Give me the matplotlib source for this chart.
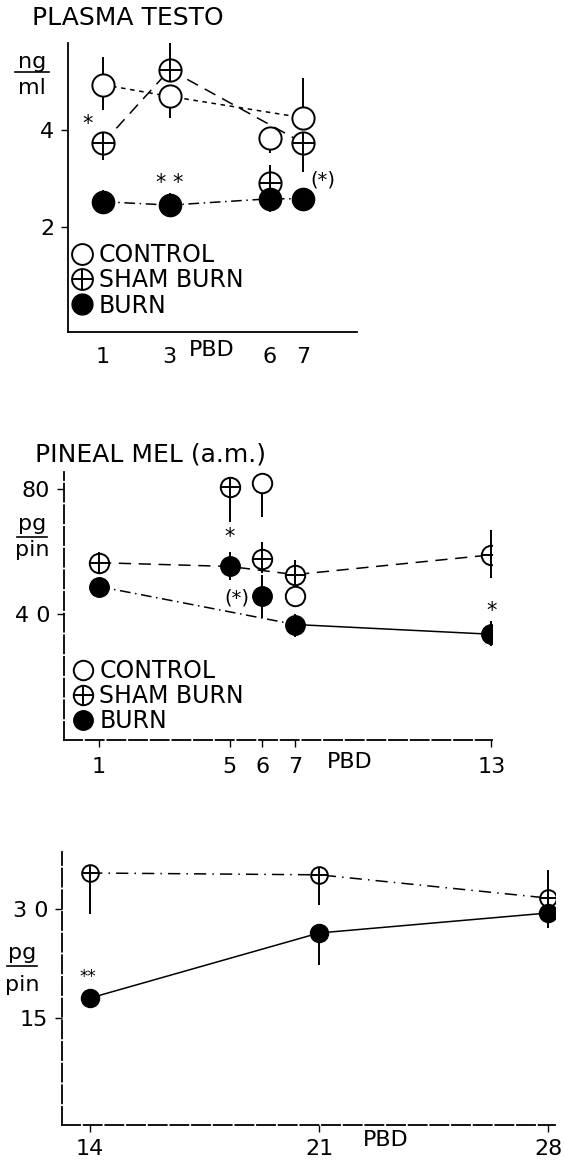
import matplotlib
matplotlib.use("Agg")
import matplotlib.pyplot as plt
import numpy as np
from matplotlib.lines import Line2D

plt.rcParams['font.family'] = ['DejaVu Sans']

# ---- panel 1: plasma testosterone (ng/ml)
testo_days = [1, 3, 6, 7]
testo_control = [4.93, 4.69, 3.83, 4.25]
testo_control_lo = [0.52, 0.44, 0.31, 0.0]
testo_control_hi = [0.57, 0.0, 0.0, 0.82]
testo_sham = [3.73, 5.24, 2.90, 3.73]
testo_sham_lo = [0.35, 0.0, 0.0, 0.60]
testo_sham_hi = [0.0, 0.55, 0.38, 0.0]
testo_burn = [2.52, 2.45, 2.58, 2.58]
testo_burn_err = [0.25, 0.25, 0.27, 0.22]
# connecting lines skip PBD 6 for control and sham
testo_line_days = [1, 3, 7]
testo_control_line = [4.93, 4.69, 4.25]
testo_sham_line = [3.73, 5.24, 3.73]

# ---- panel 2: pineal melatonin a.m., PBD 1-13 (pg/pin)
mel_days = [1, 5, 6, 7, 13]
mel_control = [np.nan, np.nan, 81.9, 46.0, np.nan]
mel_control_lo = [0, 0, 10.9, 0, 0]
mel_control_hi = [0, 0, 0, 3.0, 0]
mel_sham = [56.5, 80.6, 57.8, 52.7, 59.0]
mel_sham_lo = [0.0, 11.1, 4.5, 0.0, 7.3]
mel_sham_hi = [3.5, 0.0, 5.4, 4.8, 8.0]
mel_burn = [48.9, 55.6, 45.8, 36.8, 33.7]
mel_burn_lo = [0.0, 4.6, 6.8, 4.1, 3.7]
mel_burn_hi = [0.0, 4.4, 6.9, 3.5, 4.1]
mel_pool_days = [1, 5, 7, 13]
mel_pool = [56.5, 55.3, 52.7, 59.0]
mel_burn_line_days = [1, 7, 13]
mel_burn_line = [48.9, 36.8, 33.7]

# ---- panel 3: pineal melatonin, PBD 14-28 (pg/pin)
late_days = [14, 21, 28]
late_sham = [34.95, 34.7, 31.5]
late_sham_lo = [5.7, 4.2, 0.0]
late_sham_hi = [0.0, 0.0, 3.9]
late_burn = [17.75, 26.7, 29.45]
late_burn_lo = [1.3, 4.4, 2.0]
late_burn_hi = [1.0, 0.0, 1.5]

FS = 16


def open_pt(ax, x, y, lo, hi, ms):
    ax.errorbar(x, y, yerr=[lo, hi], fmt='none', ecolor='k', elinewidth=1.4, zorder=2)
    ax.plot(x, y, 'o', ms=ms, mfc='white', mec='k', mew=1.4, ls='none', zorder=3)


def sham_pt(ax, x, y, lo, hi, ms):
    open_pt(ax, x, y, lo, hi, ms)
    ax.plot(x, y, '+', ms=ms, mec='k', mew=1.4, ls='none', zorder=4)


def burn_pt(ax, x, y, lo, hi, ms):
    ax.errorbar(x, y, yerr=[lo, hi], fmt='none', ecolor='k', elinewidth=1.4, zorder=2)
    ax.plot(x, y, 'o', ms=ms, mfc='k', mec='k', ls='none', zorder=3)


def style(ax, dashed=False):
    for s in ['top', 'right']:
        ax.spines[s].set_visible(False)
    for s in ['left', 'bottom']:
        ax.spines[s].set_linewidth(1.3)
        if dashed:
            ax.spines[s].set_linestyle((0, (10, 2)))
    ax.tick_params(axis='y', direction='out', length=5, width=1, labelsize=FS, pad=5)
    ax.tick_params(axis='x', direction='out', length=5, width=1, labelsize=FS, pad=7)


def add_legend(ax, ms, anchor):
    h_c = Line2D([], [], marker='o', ms=ms, mfc='white', mec='k', mew=1.4, ls='none')
    h_s1 = Line2D([], [], marker='o', ms=ms, mfc='white', mec='k', mew=1.4, ls='none')
    h_s2 = Line2D([], [], marker='+', ms=ms, mec='k', mew=1.4, ls='none')
    h_b = Line2D([], [], marker='o', ms=ms, mfc='k', mec='k', ls='none')
    ax.legend([h_c, (h_s1, h_s2), h_b], ['CONTROL', 'SHAM BURN', 'BURN'],
              loc='lower left', bbox_to_anchor=anchor, frameon=False,
              fontsize=17, handlelength=0.7, handletextpad=0.35,
              labelspacing=0.05, borderpad=0, borderaxespad=0)


def frac_label(fig, xc, y_top, y_bar, y_bot, top, bot, w):
    H = 1165
    fig.text(xc, 1 - y_top / H, top, ha='center', va='center', fontsize=16)
    fig.text(xc, 1 - y_bot / H, bot, ha='center', va='center', fontsize=16)
    fig.add_artist(Line2D([xc - w / 2, xc + w / 2], [1 - y_bar / H, 1 - y_bar / H],
                          color='k', lw=1.2, transform=fig.transFigure))


fig = plt.figure(figsize=(5.64, 11.65), dpi=100)

# ---------------- panel 1
ax1 = fig.add_axes([68 / 564, 1 - 332 / 1165, 289 / 564, 289 / 1165])
ax1.plot(testo_line_days, testo_control_line, color='k', lw=1.1, ls=(0, (3, 3)), zorder=1)
ax1.plot(testo_line_days, testo_sham_line, color='k', lw=1.1, ls=(0, (8, 5)), zorder=1)
ax1.plot(testo_days, testo_burn, color='k', lw=1.1, ls=(0, (7, 3, 1, 3)), zorder=1)
open_pt(ax1, testo_days, testo_control, testo_control_lo, testo_control_hi, 16)
sham_pt(ax1, testo_days, testo_sham, testo_sham_lo, testo_sham_hi, 16)
burn_pt(ax1, testo_days, testo_burn, testo_burn_err, testo_burn_err, 16)
ax1.set_xlim(-0.05, 8.62)
ax1.set_ylim(-0.165, 5.79)
ax1.set_xticks(testo_days)
ax1.set_yticks([2, 4])
style(ax1)
ax1.tick_params(axis='x', length=0, pad=11)
ax1.text(0.55, 4.12, '*', ha='center', va='center', fontsize=15)
ax1.text(3.0, 2.9, '* *', ha='center', va='center', fontsize=15)
ax1.text(7.6, 2.97, '(*)', ha='center', va='center', fontsize=14)
ax1.text(4.27, -0.062, 'PBD', transform=ax1.get_xaxis_transform(),
         ha='center', va='center', fontsize=FS)
add_legend(ax1, 15, (0.02, 0.05))
fig.text(32 / 564, 1 - 18 / 1165, 'PLASMA TESTO', ha='left', va='center', fontsize=18)
frac_label(fig, 32 / 564, 62, 72, 88, 'ng', 'ml', 34 / 564)

# ---------------- panel 2
ax2 = fig.add_axes([64 / 564, 1 - 740 / 1165, 428 / 564, 268 / 1165])
ax2.plot(mel_pool_days, mel_pool, color='k', lw=1.1, ls=(0, (8, 5)), zorder=1)
ax2.plot(mel_burn_line_days[:2], mel_burn_line[:2], color='k', lw=1.1,
         ls=(0, (7, 3, 1, 3)), zorder=1)
ax2.plot(mel_burn_line_days[1:], mel_burn_line[1:], color='k', lw=1.1, zorder=1)
open_pt(ax2, mel_days, mel_control, mel_control_lo, mel_control_hi, 14)
sham_pt(ax2, mel_days, mel_sham, mel_sham_lo, mel_sham_hi, 14)
burn_pt(ax2, mel_days, mel_burn, mel_burn_lo, mel_burn_hi, 14)
ax2.set_xlim(-0.07, 13.02)
ax2.set_ylim(0, 85.4)
ax2.set_xticks(mel_days)
ax2.set_yticks([40, 80])
ax2.set_yticklabels(['4 0', '80'])
style(ax2, dashed=True)
ax2.text(5.0, 64.8, '*', ha='center', va='center', fontsize=15)
ax2.text(5.21, 45.4, '(*)', ha='center', va='center', fontsize=14)
ax2.text(13.0, 41.0, '*', ha='center', va='center', fontsize=15)
ax2.text(8.66, -0.082, 'PBD', transform=ax2.get_xaxis_transform(),
         ha='center', va='center', fontsize=FS)
add_legend(ax2, 14, (0.025, 0.025))
fig.text(35 / 564, 1 - 454 / 1165, 'PINEAL MEL (a.m.)', ha='left', va='center', fontsize=18)
frac_label(fig, 32 / 564, 524, 537, 550, 'pg', 'pin', 30 / 564)

# ---------------- panel 3
ax3 = fig.add_axes([62 / 564, 1 - 1125 / 1165, 493 / 564, 273 / 1165])
ax3.plot(late_days, late_sham, color='k', lw=1.1, ls=(0, (8, 4, 1, 4)), zorder=1)
ax3.plot(late_days, late_burn, color='k', lw=1.1, zorder=1)
sham_pt(ax3, late_days, late_sham, late_sham_lo, late_sham_hi, 12)
burn_pt(ax3, late_days, late_burn, late_burn_lo, late_burn_hi, 13)
ax3.set_xlim(13.14, 28.21)
ax3.set_ylim(0.28, 37.84)
ax3.set_xticks(late_days)
ax3.set_yticks([15, 30])
ax3.set_yticklabels(['15', '3 0'])
style(ax3, dashed=True)
ax3.tick_params(axis='x', pad=5)
ax3.text(13.92, 20.6, '**', ha='center', va='center', fontsize=12)
ax3.text(23.05, -0.055, 'PBD', transform=ax3.get_xaxis_transform(),
         ha='center', va='center', fontsize=FS)
frac_label(fig, 22 / 564, 953, 966, 985, 'pg', 'pin', 30 / 564)

fig.savefig('out.png', dpi=100, facecolor='white')
